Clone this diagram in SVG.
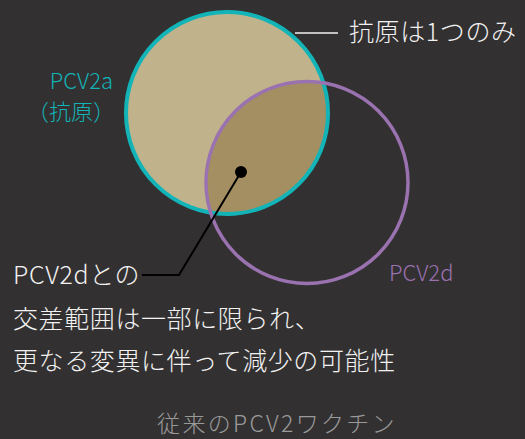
<svg xmlns="http://www.w3.org/2000/svg" width="525" height="439" viewBox="0 0 525 439">
  <style>
    text { font-family: "Noto Sans CJK JP", "Noto Sans", sans-serif; font-weight: 300; }
    .w { fill: #f2f2f2; font-size: 25px; letter-spacing: 0.6px; }
    .lbl { font-size: 22px; }
    .conn { fill: none; stroke-width: 2; }
  </style>
  <defs>
    <clipPath id="clipA"><circle cx="227" cy="113" r="101"/></clipPath>
  </defs>
  <rect width="525" height="439" fill="#323031"/>
  <g id="pcv2a">
    <circle cx="227" cy="113" r="101" fill="#c0b38b"/>
    <circle cx="307" cy="182.5" r="101" fill="#a38f62" clip-path="url(#clipA)"/>
    <circle cx="227" cy="113" r="101" fill="none" stroke="#13b4b7" stroke-width="4"/>
    <text class="lbl" x="113" y="89" text-anchor="end" fill="#13b4b7">PCV2a</text>
    <text class="lbl" x="115" y="120" text-anchor="end" fill="#13b4b7">（抗原）</text>
  </g>
  <g id="pcv2d">
    <circle cx="307" cy="182.5" r="101" fill="none" stroke="#9b72b0" stroke-width="3.5"/>
    <text class="lbl" x="389" y="281" fill="#9b72b0">PCV2d</text>
  </g>
  <g id="connectors">
    <line x1="295" y1="33" x2="338" y2="33" stroke="#f2f2f2" stroke-width="1.5"/>
    <polyline class="conn" points="142,275 179,275 241,172" stroke="#000"/>
    <circle cx="241" cy="172" r="6" fill="#000"/>
  </g>
  <g id="label-antigen">
    <text class="w" x="349" y="41">抗原は1つのみ</text>
  </g>
  <g id="label-cross">
    <text class="w" x="13" y="284">PCV2dとの</text>
    <text class="w" x="13" y="328">交差範囲は一部に限られ、</text>
    <text class="w" x="13" y="370">更なる変異に伴って減少の可能性</text>
  </g>
  <g id="caption">
    <text x="277" y="432" text-anchor="middle" fill="#9a9a9a" font-size="23" letter-spacing="2.3">従来のPCV2ワクチン</text>
  </g>
</svg>
